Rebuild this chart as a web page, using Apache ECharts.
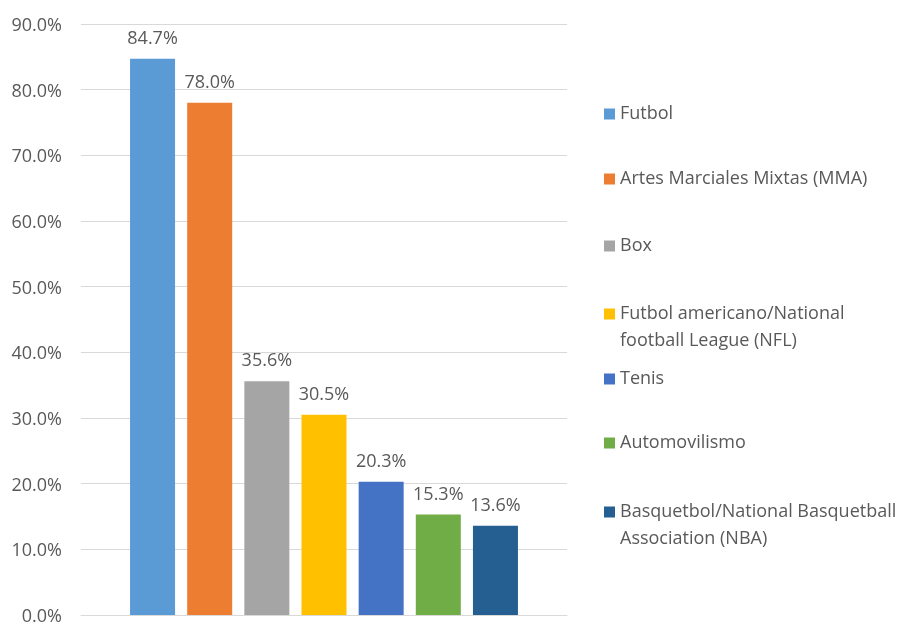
<!DOCTYPE html>
<html><head><meta charset="utf-8">
<script src="https://cdn.jsdelivr.net/npm/echarts@6/dist/echarts.min.js"></script>
<style>html,body{margin:0;padding:0;background:#fff}#c{width:904px;height:626px}</style>
</head><body><div id="c"></div>
<script>
const seriesNames = ['Futbol','Artes Marciales Mixtas (MMA)','Box','Futbol americano/National football League (NFL)','Tenis','Automovilismo','Basquetbol/National Basquetball Association (NBA)'];
const legendLabels = ['Futbol','Artes Marciales Mixtas (MMA)','Box','Futbol americano/National\nfootball League (NFL)','Tenis','Automovilismo','Basquetbol/National Basquetball\nAssociation (NBA)'];
const values = [84.7, 78.0, 35.6, 30.5, 20.3, 15.3, 13.6];
const colors = ['#5B9BD5','#ED7D31','#A5A5A5','#FFC000','#4472C4','#70AD47','#255E91'];
const yTicks = [0,10,20,30,40,50,60,70,80,90];
const legendCenters = [112,177,244,312,377,441,510];

const FONT = 'Open Sans';
const TXT = '#595959';
const FS = 18;
const chart = echarts.init(document.getElementById('c'));
const LH = 27;
const legends = seriesNames.map((n,i)=>{
  const multi = legendLabels[i].indexOf('\n')>=0;
  const h = multi ? LH*3 : LH;
  return {
    data:[n], orient:'vertical', left:604, top: legendCenters[i]-h/2+2, padding:0,
    itemWidth:11, itemHeight:11, itemGap:0, icon:'rect',
    formatter: ()=> multi ? ' \n'+legendLabels[i] : legendLabels[i],
    textStyle:{fontFamily:FONT,fontSize:18,color:TXT,lineHeight:LH}
  };
});
chart.setOption({
  animation:false,
  textStyle:{fontFamily:FONT},
  grid:{left:81,right:337,top:24,bottom:6,containLabel:false},
  legend:legends,
  xAxis:{type:'category',data:[''],axisTick:{show:false},axisLabel:{show:false},
    axisLine:{lineStyle:{color:'#D9D9D9'}}},
  yAxis:{type:'value',min:yTicks[0],max:yTicks[yTicks.length-1],interval:10,
    axisLine:{show:false},axisTick:{show:false},
    splitLine:{lineStyle:{color:'#D9D9D9'}},
    axisLabel:{margin:19,color:TXT,formatter:v=>'{a|'+v.toFixed(1)+'%}',
      rich:{a:{fontFamily:FONT,fontSize:FS,color:TXT,padding:[4,0,0,0]}}}},
  series: seriesNames.map((n,i)=>({
    name:n,type:'bar',data:[values[i]],barWidth:45,barGap:'27%',
    itemStyle:{color:colors[i]},
    label:{show:true,position:'top',distance:11,fontFamily:FONT,fontSize:FS,color:TXT,formatter:p=>p.value.toFixed(1)+'%'}
  }))
});
</script></body></html>
